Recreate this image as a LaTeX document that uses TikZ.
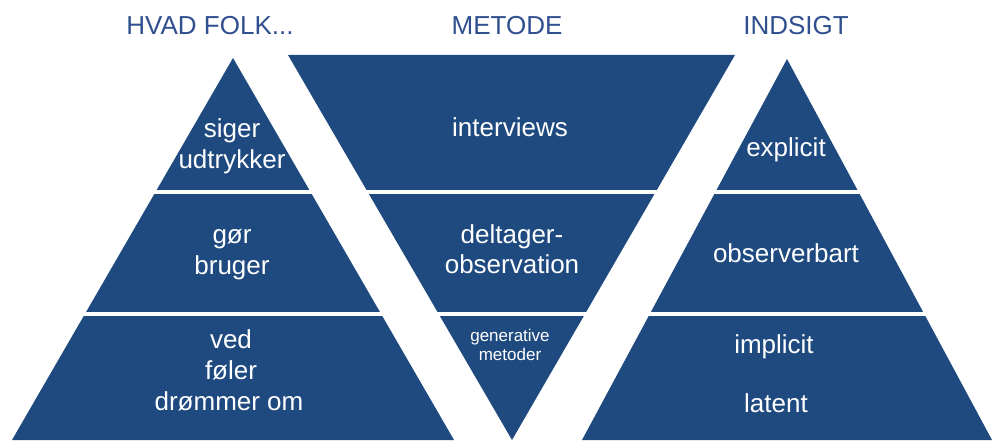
\documentclass[tikz,border=0pt]{standalone}
\usepackage{fontspec}
\setmainfont{Liberation Sans}
\definecolor{pyrblue}{HTML}{1F4A80}
\definecolor{headblue}{HTML}{2F4F8F}
\begin{document}
\begin{tikzpicture}[x=1pt,y=-1pt,
  tier/.style={fill=pyrblue,draw=none},
  label/.style={text=white,anchor=base,inner sep=0pt,font=\fontsize{26}{30}\selectfont},
  smalllabel/.style={text=white,anchor=base,inner sep=0pt,font=\fontsize{17}{19}\selectfont},
  head/.style={text=headblue,anchor=base,inner sep=0pt,font=\fontsize{26}{30}\selectfont},
  cut/.style={draw=white,line width=4pt}]
\useasboundingbox (0,0) rectangle (993,441);
\fill[white] (0,0) rectangle (993,441);

% three triangles
\fill[tier] (233,58) -- (454,440) -- (12,440) -- cycle;
\fill[tier] (288,55) -- (735,55) -- (512,440) -- cycle;
\fill[tier] (787,59) -- (992,440) -- (582,440) -- cycle;

% white bands splitting the tiers
\draw[cut] (0,192) -- (993,192);
\draw[cut] (0,313.5) -- (993,313.5);

% column headings
\node[head] (h1) at (210,35) {HVAD FOLK...};
\node[head] (h2) at (507,35) {METODE};
\node[head] (h3) at (796,35) {INDSIGT};

% left pyramid
\node[label] (l1a) at (232,138) {siger};
\node[label] (l1b) at (232,168) {udtrykker};
\node[label] (l2a) at (232,243) {gør};
\node[label] (l2b) at (232,274) {bruger};
\node[label] (l3a) at (231,348) {ved};
\node[label] (l3b) at (231,379) {føler};
\node[label] (l3c) at (229,410) {drømmer om};

% middle funnel
\node[label] (m1) at (510,137) {interviews};
\node[label] (m2a) at (512,243) {deltager-};
\node[label] (m2b) at (512,273) {observation};
\node[smalllabel] (m3a) at (510,341) {generative};
\node[smalllabel] (m3b) at (510,360) {metoder};

% right pyramid
\node[label] (r1) at (786,157) {explicit};
\node[label] (r2) at (786,262) {observerbart};
\node[label] (r3a) at (774,353) {implicit};
\node[label] (r3b) at (776,412) {latent};
\end{tikzpicture}
\end{document}
